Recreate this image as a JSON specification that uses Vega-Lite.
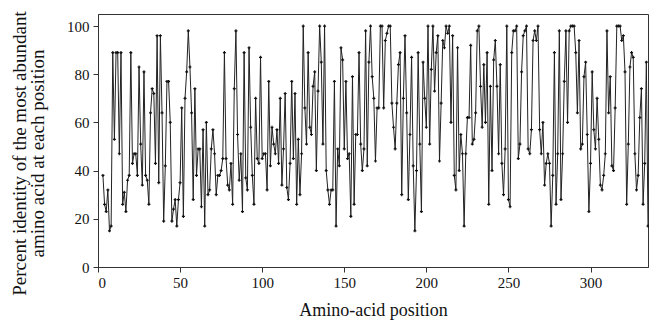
{
  "$schema": "https://vega.github.io/schema/vega-lite/v6.json",
  "autosize": {"type": "none"},
  "width": 550,
  "height": 253,
  "padding": {"left": 98, "top": 14, "right": 1, "bottom": 55},
  "background": "white",
  "config": {
    "font": "Liberation Serif",
    "view": {"stroke": "#333", "strokeWidth": 1},
    "axis": {"labelFont": "Liberation Serif", "titleFont": "Liberation Serif", "labelFontSize": 15, "titleFontSize": 19, "titleFontWeight": "normal", "labelColor": "#111", "titleColor": "#111", "domainColor": "#333", "tickColor": "#333", "grid": false, "tickSize": 5}
  },
  "data": {"values": [
    {"p":3,"v":38},{"p":4,"v":26},{"p":5,"v":23},{"p":6,"v":32},{"p":7,"v":15},{"p":8,"v":17},{"p":9,"v":89},{"p":10,"v":53},{"p":11,"v":89},{"p":12,"v":89},
    {"p":13,"v":47},{"p":14,"v":89},{"p":15,"v":26},{"p":16,"v":31},{"p":17,"v":23},{"p":18,"v":36},{"p":19,"v":38},{"p":20,"v":89},{"p":21,"v":43},{"p":22,"v":47},
    {"p":23,"v":47},{"p":24,"v":38},{"p":25,"v":83},{"p":26,"v":51},{"p":27,"v":34},{"p":28,"v":81},{"p":29,"v":38},{"p":30,"v":36},{"p":31,"v":26},{"p":32,"v":64},
    {"p":33,"v":74},{"p":34,"v":72},{"p":35,"v":43},{"p":36,"v":96},{"p":37,"v":35},{"p":38,"v":96},{"p":39,"v":64},{"p":40,"v":19},{"p":41,"v":42},{"p":42,"v":77},
    {"p":43,"v":77},{"p":44,"v":60},{"p":45,"v":19},{"p":46,"v":24},{"p":47,"v":28},{"p":48,"v":17},{"p":49,"v":28},{"p":50,"v":35},{"p":51,"v":66},{"p":52,"v":21},
    {"p":53,"v":70},{"p":54,"v":81},{"p":55,"v":98},{"p":56,"v":83},{"p":57,"v":64},{"p":58,"v":28},{"p":59,"v":74},{"p":60,"v":38},{"p":61,"v":49},{"p":62,"v":49},
    {"p":63,"v":25},{"p":64,"v":57},{"p":65,"v":17},{"p":66,"v":60},{"p":67,"v":30},{"p":68,"v":32},{"p":69,"v":49},{"p":70,"v":57},{"p":71,"v":47},{"p":72,"v":30},
    {"p":73,"v":38},{"p":74,"v":38},{"p":75,"v":40},{"p":76,"v":45},{"p":77,"v":89},{"p":78,"v":45},{"p":79,"v":34},{"p":80,"v":32},{"p":81,"v":43},{"p":82,"v":26},
    {"p":83,"v":74},{"p":84,"v":98},{"p":85,"v":55},{"p":86,"v":36},{"p":87,"v":47},{"p":88,"v":23},{"p":89,"v":89},{"p":90,"v":37},{"p":91,"v":32},{"p":92,"v":91},
    {"p":93,"v":58},{"p":94,"v":38},{"p":95,"v":26},{"p":96,"v":70},{"p":97,"v":45},{"p":98,"v":43},{"p":99,"v":87},{"p":100,"v":45},{"p":101,"v":47},{"p":102,"v":47},
    {"p":103,"v":32},{"p":104,"v":77},{"p":105,"v":42},{"p":106,"v":58},{"p":107,"v":51},{"p":108,"v":47},{"p":109,"v":57},{"p":110,"v":43},{"p":111,"v":70},{"p":112,"v":34},
    {"p":113,"v":49},{"p":114,"v":72},{"p":115,"v":33},{"p":116,"v":28},{"p":117,"v":43},{"p":118,"v":77},{"p":119,"v":45},{"p":120,"v":72},{"p":121,"v":26},{"p":122,"v":53},
    {"p":123,"v":30},{"p":124,"v":47},{"p":125,"v":100},{"p":126,"v":66},{"p":127,"v":51},{"p":128,"v":89},{"p":129,"v":58},{"p":130,"v":55},{"p":131,"v":75},{"p":132,"v":81},
    {"p":133,"v":40},{"p":134,"v":73},{"p":135,"v":100},{"p":136,"v":85},{"p":137,"v":51},{"p":138,"v":100},{"p":139,"v":40},{"p":140,"v":32},{"p":141,"v":26},{"p":142,"v":32},
    {"p":143,"v":32},{"p":144,"v":77},{"p":145,"v":17},{"p":146,"v":49},{"p":147,"v":42},{"p":148,"v":91},{"p":149,"v":86},{"p":150,"v":49},{"p":151,"v":77},{"p":152,"v":45},
    {"p":153,"v":47},{"p":154,"v":21},{"p":155,"v":79},{"p":156,"v":26},{"p":157,"v":55},{"p":158,"v":55},{"p":159,"v":89},{"p":160,"v":51},{"p":161,"v":40},{"p":162,"v":49},
    {"p":163,"v":98},{"p":164,"v":42},{"p":165,"v":85},{"p":166,"v":100},{"p":167,"v":79},{"p":168,"v":70},{"p":169,"v":44},{"p":170,"v":66},{"p":171,"v":66},{"p":172,"v":100},
    {"p":173,"v":100},{"p":174,"v":66},{"p":175,"v":94},{"p":176,"v":97},{"p":177,"v":100},{"p":178,"v":100},{"p":179,"v":68},{"p":180,"v":58},{"p":181,"v":49},{"p":182,"v":68},
    {"p":183,"v":84},{"p":184,"v":89},{"p":185,"v":30},{"p":186,"v":70},{"p":187,"v":96},{"p":188,"v":64},{"p":189,"v":28},{"p":190,"v":55},{"p":191,"v":87},{"p":192,"v":42},
    {"p":193,"v":15},{"p":194,"v":40},{"p":195,"v":89},{"p":196,"v":51},{"p":197,"v":23},{"p":198,"v":85},{"p":199,"v":70},{"p":200,"v":58},{"p":201,"v":100},{"p":202,"v":51},
    {"p":203,"v":82},{"p":204,"v":100},{"p":205,"v":73},{"p":206,"v":89},{"p":207,"v":96},{"p":208,"v":44},{"p":209,"v":68},{"p":210,"v":94},{"p":211,"v":91},{"p":212,"v":100},
    {"p":213,"v":97},{"p":214,"v":100},{"p":215,"v":60},{"p":216,"v":96},{"p":217,"v":38},{"p":218,"v":32},{"p":219,"v":91},{"p":220,"v":40},{"p":221,"v":55},{"p":222,"v":47},
    {"p":223,"v":17},{"p":224,"v":47},{"p":225,"v":62},{"p":226,"v":62},{"p":227,"v":92},{"p":228,"v":51},{"p":229,"v":53},{"p":230,"v":64},{"p":231,"v":98},{"p":232,"v":100},
    {"p":233,"v":75},{"p":234,"v":58},{"p":235,"v":84},{"p":236,"v":60},{"p":237,"v":89},{"p":238,"v":26},{"p":239,"v":75},{"p":240,"v":40},{"p":241,"v":86},{"p":242,"v":94},
    {"p":243,"v":75},{"p":244,"v":47},{"p":245,"v":84},{"p":246,"v":43},{"p":247,"v":30},{"p":248,"v":49},{"p":249,"v":100},{"p":250,"v":28},{"p":251,"v":25},{"p":252,"v":89},
    {"p":253,"v":98},{"p":254,"v":98},{"p":255,"v":100},{"p":256,"v":45},{"p":257,"v":51},{"p":258,"v":81},{"p":259,"v":96},{"p":260,"v":98},{"p":261,"v":100},{"p":262,"v":49},
    {"p":263,"v":47},{"p":264,"v":57},{"p":265,"v":94},{"p":266,"v":98},{"p":267,"v":94},{"p":268,"v":100},{"p":269,"v":57},{"p":270,"v":47},{"p":271,"v":60},{"p":272,"v":34},
    {"p":273,"v":43},{"p":274,"v":47},{"p":275,"v":43},{"p":276,"v":17},{"p":277,"v":38},{"p":278,"v":89},{"p":279,"v":26},{"p":280,"v":47},{"p":281,"v":98},{"p":282,"v":28},
    {"p":283,"v":47},{"p":284,"v":77},{"p":285,"v":98},{"p":286,"v":60},{"p":287,"v":98},{"p":288,"v":100},{"p":289,"v":100},{"p":290,"v":100},{"p":291,"v":89},{"p":292,"v":64},
    {"p":293,"v":94},{"p":294,"v":49},{"p":295,"v":51},{"p":296,"v":79},{"p":297,"v":85},{"p":298,"v":55},{"p":299,"v":23},{"p":300,"v":43},{"p":301,"v":81},{"p":302,"v":57},
    {"p":303,"v":49},{"p":304,"v":70},{"p":305,"v":53},{"p":306,"v":34},{"p":307,"v":32},{"p":308,"v":38},{"p":309,"v":47},{"p":310,"v":98},{"p":311,"v":64},{"p":312,"v":79},
    {"p":313,"v":42},{"p":314,"v":40},{"p":315,"v":66},{"p":316,"v":100},{"p":317,"v":100},{"p":318,"v":100},{"p":319,"v":94},{"p":320,"v":96},{"p":321,"v":81},{"p":322,"v":26},
    {"p":323,"v":51},{"p":324,"v":83},{"p":325,"v":89},{"p":326,"v":87},{"p":327,"v":47},{"p":328,"v":32},{"p":329,"v":38},{"p":330,"v":62},{"p":331,"v":74},{"p":332,"v":26},
    {"p":333,"v":43},{"p":334,"v":85},{"p":335,"v":17}
  ]},
  "encoding": {
    "x": {"field": "p", "type": "quantitative", "scale": {"domain": [0, 335], "nice": false, "zero": false},
          "axis": {"values": [0, 50, 100, 150, 200, 250, 300], "title": "Amino-acid position", "titleFontSize": 18, "titlePadding": 11, "labelPadding": 3}},
    "y": {"field": "v", "type": "quantitative", "scale": {"domain": [0, 105], "nice": false},
          "axis": {"values": [0, 20, 40, 60, 80, 100], "title": ["Percent identity of the most abundant", "amino acid at each position"], "titleLineHeight": 18, "titleX": -69, "titleY": 139, "labelPadding": 4}}
  },
  "layer": [
    {"mark": {"type": "line", "color": "#222", "strokeWidth": 1}},
    {"mark": {"type": "point", "shape": "cross", "size": 9, "filled": true, "color": "#111", "opacity": 1}}
  ]
}
